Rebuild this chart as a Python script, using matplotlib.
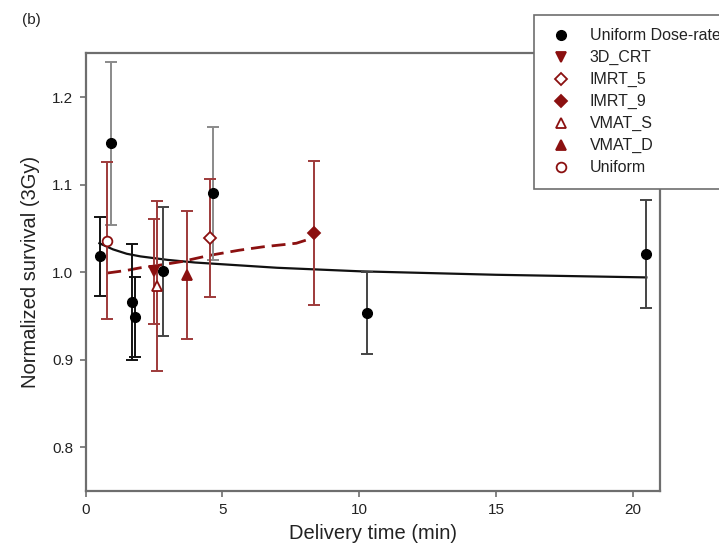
import matplotlib
matplotlib.use("Agg")
import matplotlib.pyplot as plt
from matplotlib.lines import Line2D

plt.rcParams['font.family'] = ['Liberation Sans', 'DejaVu Sans']

# ---- data ----
dose_t = [0.51, 0.91, 1.69, 1.82, 2.82, 4.67, 10.27, 20.5]
dose_s = [1.018, 1.147, 0.966, 0.949, 1.001, 1.090, 0.953, 1.021]
dose_err = [0.045, 0.093, 0.066, 0.046, 0.074, 0.076, 0.047, 0.062]
dose_ecolors = ['#111111', '#8a8a8a', '#111111', '#111111', '#444444', '#8a8a8a', '#444444', '#444444']

techniques = ['3D_CRT', 'IMRT_5', 'IMRT_9', 'VMAT_S', 'VMAT_D', 'Uniform']
tech_t = [2.48, 4.53, 8.33, 2.61, 3.70, 0.79]
tech_s = [1.001, 1.039, 1.045, 0.984, 0.997, 1.036]
tech_err = [0.060, 0.067, 0.082, 0.097, 0.073, 0.090]

fit_t = [0.5, 1, 1.5, 2, 3, 4, 5, 7, 10, 15, 20.5]
fit_s = [1.033, 1.026, 1.021, 1.018, 1.014, 1.011, 1.009, 1.005, 1.001, 0.997, 0.994]

tech_fit_t = [0.79, 1.5, 2.0, 2.5, 3.5, 4.5, 5.6, 6.5, 7.7, 8.1, 8.33]
tech_fit_s = [0.999, 1.002, 1.005, 1.007, 1.012, 1.019, 1.025, 1.029, 1.033, 1.037, 1.041]

xticks = [0, 5, 10, 15, 20]
yticks = [0.8, 0.9, 1.0, 1.1, 1.2]

# ---- styles ----
RED = '#8b1010'
RED_E = '#9e3a3a'
tech_style = {
    '3D_CRT': dict(marker='v', mfc=RED, mec=RED),
    'IMRT_5': dict(marker='D', mfc='white', mec=RED, ms=6.5),
    'IMRT_9': dict(marker='D', mfc=RED, mec=RED, ms=6.5),
    'VMAT_S': dict(marker='^', mfc='white', mec=RED),
    'VMAT_D': dict(marker='^', mfc=RED, mec=RED),
    'Uniform': dict(marker='o', mfc='white', mec=RED),
}

fig = plt.figure(figsize=(7.19, 5.43), dpi=100)
ax = fig.add_axes([0.1192, 0.0958, 0.918 - 0.1192, 0.9018 - 0.0958])

# fit lines
ax.plot(fit_t, fit_s, color='#111111', lw=1.6, zorder=2)
ax.plot(tech_fit_t, tech_fit_s, color=RED, lw=2.0, ls=(0, (5, 2.5)), zorder=2)

# uniform dose-rate points
for t, s, e, c in zip(dose_t, dose_s, dose_err, dose_ecolors):
    ax.errorbar(t, s, yerr=e, fmt='none', ecolor=c, elinewidth=1.4, capsize=4.2, capthick=1.4, zorder=3)
ax.plot(dose_t, dose_s, ls='none', marker='o', ms=7, color='black', zorder=5)

# technique points
for name, t, s, e in zip(techniques, tech_t, tech_s, tech_err):
    ax.errorbar(t, s, yerr=e, fmt='none', ecolor=RED_E, elinewidth=1.4, capsize=4.2, capthick=1.4, zorder=3)
    st = dict(ms=7, mew=1.3)
    st.update(tech_style[name])
    ax.plot([t], [s], ls='none', zorder=6, **st)

ax.set_xlim(0, 21)
ax.set_ylim(0.75, 1.25)
ax.set_xticks(xticks)
ax.set_xticklabels([str(v) for v in xticks])
ax.set_yticks(yticks)
ax.set_yticklabels([f'{v:.1f}' for v in yticks])

for sp in ax.spines.values():
    sp.set_color('#6e6e6e')
    sp.set_linewidth(1.6)
ax.tick_params(direction='out', length=4, width=1.2, color='#6e6e6e', labelsize=11, labelcolor='#222222', pad=5)

ax.set_xlabel('Delivery time (min)', fontsize=14.5, color='#222222', labelpad=5)
ax.set_ylabel('Normalized survival (3Gy)', fontsize=14.5, color='#222222', labelpad=9)

fig.text(22 / 719, 1 - 20 / 543, '(b)', fontsize=11, color='#222222', va='center')

# legend
handles = [Line2D([], [], ls='none', marker='o', ms=7, color='black')]
labels = ['Uniform Dose-rate']
for name in ['3D_CRT', 'IMRT_5', 'IMRT_9', 'VMAT_S', 'VMAT_D', 'Uniform']:
    st = dict(ms=7, mew=1.3)
    st.update(tech_style[name])
    handles.append(Line2D([], [], ls='none', **st))
    labels.append(name)
leg = fig.legend(handles, labels, loc='upper left', bbox_to_anchor=(534 / 719, 1 - 15 / 543),
                 frameon=True, fancybox=False, framealpha=1, edgecolor='#6e6e6e',
                 fontsize=11.5, handlelength=1.7, handletextpad=0.96, borderpad=0.84,
                 labelspacing=0.43, borderaxespad=0)
leg.get_frame().set_linewidth(1.2)
for txt in leg.get_texts():
    txt.set_color('#222222')

fig.savefig('out.png', dpi=100)
